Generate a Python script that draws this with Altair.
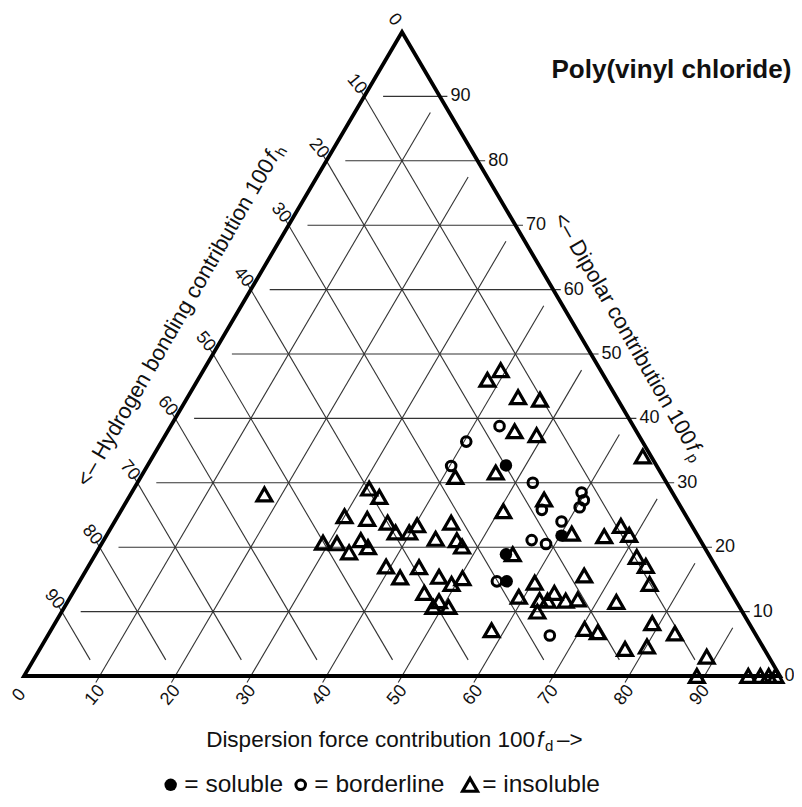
import altair as alt
import pandas as pd

# ---------------- data ----------------
# ternary values: fd = dispersion, fp = dipolar (fh = 100 - fd - fp)
soluble_fd = [47.4, 60.2, 54.3, 56.5]
soluble_fp = [32.7, 21.8, 18.9, 14.7]

border_fd = [43.5, 40.3, 40.2, 52.3, 59.5, 60.4, 60.4, 55.6, 59.1, 56.6, 58.8, 55.2, 66.4]
border_fp = [38.8, 36.4, 32.6, 30.0, 28.5, 27.3, 26.2, 25.8, 24.0, 21.1, 20.5, 14.7, 6.3]

insol_fd = [39.3, 38.3, 43.7, 46.8, 45.9, 49.1, 46.6, 41.6, 64.8, 55.1, 50.6, 61.4, 65.9,
            67.3, 69.1, 71.8, 73.7, 75.6, 55.2, 66.3, 60.3, 59.3, 62.3, 63.4, 63.7, 65.8,
            67.3, 62.9, 72.6, 58.3, 70.5, 72.5, 79.0, 82.8, 77.4, 80.1, 88.8, 89.0, 95.8,
            97.4, 98.5, 99.4,
            17.7, 31.1, 33.1, 30.0, 33.2, 36.2, 38.0, 39.8, 40.3, 44.6, 43.8, 46.7, 47.9,
            29.2, 31.1, 34.0, 35.5, 33.4, 39.4, 42.1, 43.8, 47.2, 49.4, 50.4, 46.5, 49.1,
            48.8, 50.8]
insol_fp = [47.5, 46.0, 43.3, 42.9, 38.0, 37.4, 31.6, 30.9, 34.1, 27.4, 25.6, 22.1, 21.7,
            23.3, 21.9, 18.5, 17.1, 14.3, 18.9, 15.6, 14.5, 12.3, 11.8, 11.7, 12.9, 11.7,
            11.9, 10.0, 11.5, 7.1, 7.3, 6.8, 8.2, 6.6, 4.2, 4.6, 3.0, 0.0, 0.0,
            0.0, 0.0, 0.0,
            28.2, 29.1, 27.8, 24.8, 24.4, 23.8, 22.3, 22.3, 23.4, 23.8, 21.3, 21.1, 20.1,
            20.7, 20.6, 21.1, 20.0, 19.2, 17.0, 15.3, 16.9, 15.4, 14.3, 15.2, 12.9, 11.6,
            10.7, 10.7]

grid_ticks = [10, 20, 30, 40, 50, 60, 70, 80, 90]
tick_labels = [0, 10, 20, 30, 40, 50, 60, 70, 80, 90]

corner_fd = [0, 100, 0, 0, 100]
corner_fp = [0, 0, 100, 0, 0]

title_text = "Poly(vinyl chloride)"
bottom_title = "Dispersion force contribution 100"
left_title = "<\u2013 Hydrogen bonding contribution 100"
right_title = "<\u2013 Dipolar contribution 100"
legend_texts = ["= soluble", "= borderline", "= insoluble"]

# ---------------- layout ----------------
W, H = 786, 789
XMIN, XMAX = -2.116, 101.85
YMIN, YMAX = -18.79, 103.73
FONT = "Liberation Sans"
SHORT = 2.5   # gap left before the far edge
TICK = 1.0    # tick length beyond the edge

xs = alt.Scale(domain=[XMIN, XMAX], nice=False, zero=False)
ys = alt.Scale(domain=[YMIN, YMAX], nice=False, zero=False)
X = lambda f: alt.X(f, type="quantitative", scale=xs, axis=None)
Y = lambda f: alt.Y(f, type="quantitative", scale=ys, axis=None)

def tern(fd, fp):
    df = pd.DataFrame({"fd": fd, "fp": fp})
    df["X"] = df["fd"] + df["fp"] / 2.0
    df["Y"] = df["fp"]
    return df

# grid lines
rows = []
for k in grid_ticks:
    rows.append(((k, -TICK), (k, 100 - k - SHORT)))                       # constant fd
    rows.append(((100 - k + TICK, k), (SHORT, k)))                        # constant fp
    rows.append(((-TICK, 100 - k + TICK), (100 - k - SHORT, SHORT)))      # constant fh
grid = pd.DataFrame({
    "X": [r[0][0] + r[0][1] / 2 for r in rows], "Y": [r[0][1] for r in rows],
    "X2": [r[1][0] + r[1][1] / 2 for r in rows], "Y2": [r[1][1] for r in rows],
})

grid_layer = alt.Chart(grid).mark_rule(color="#333333", strokeWidth=1.1).encode(
    x=X("X"), y=Y("Y"), x2="X2:Q", y2="Y2:Q")

edges = tern(corner_fd, corner_fp)
edges["o"] = range(len(edges))
edge_layer = alt.Chart(edges).mark_line(color="black", strokeWidth=3.8, strokeJoin="miter").encode(
    x=X("X"), y=Y("Y"), order="o:Q")

TRI = dict(shape="triangle-up", filled=False, size=220, strokeWidth=3.2, color="black", opacity=1)
OC = dict(shape="circle", filled=False, size=92, strokeWidth=3.0, color="black", opacity=1)
FC = dict(shape="circle", filled=True, size=155, color="black", opacity=1)

ins_layer = alt.Chart(tern(insol_fd, insol_fp)).mark_point(**TRI).encode(x=X("X"), y=Y("Y"))
bor_layer = alt.Chart(tern(border_fd, border_fp)).mark_point(**OC).encode(x=X("X"), y=Y("Y"))
sol_layer = alt.Chart(tern(soluble_fd, soluble_fp)).mark_point(**FC).encode(x=X("X"), y=Y("Y"))

# tick labels
lab = pd.DataFrame({"k": tick_labels})
lab["t"] = lab["k"].astype(str)
bot = lab.copy(); bot["X"] = bot["k"] - 0.6; bot["Y"] = -3.0
lef = lab.copy(); lef["X"] = 49.0 - lef["k"] / 2; lef["Y"] = 101.9 - lef["k"]
rig = lab.copy()
rig["X"] = [100.6 if k == 0 else 101.4 - k / 2 for k in rig["k"]]
rig["Y"] = rig["k"]

def txt(df, **kw):
    base = dict(font=FONT, fontSize=18, color="#111")
    base.update(kw)
    return alt.Chart(df).mark_text(**base).encode(x=X("X"), y=Y("Y"), text="t:N")

bot_lab = txt(bot, angle=310, align="center", baseline="middle")
lef_lab = txt(lef, angle=50, align="center", baseline="middle")
rig_lab = txt(rig, align="left", baseline="middle")

# titles with italic f and subscript
def titled(px, py, main, sub, angle, baseline, subdy, fs, tail=None):
    d = pd.DataFrame({"X": [px], "Y": [py]})
    ls = []
    ls.append(alt.Chart(d).mark_text(text=main, font=FONT, fontSize=fs, align="right",
              baseline=baseline, angle=angle, color="#111").encode(x=X("X"), y=Y("Y")))
    ls.append(alt.Chart(d).mark_text(text="f", font=FONT, fontSize=fs, fontStyle="italic",
              align="left", baseline=baseline, angle=angle, dx=2, color="#111").encode(x=X("X"), y=Y("Y")))
    ls.append(alt.Chart(d).mark_text(text=sub, font=FONT, fontSize=round(fs * 0.68), align="left",
              baseline=baseline, angle=angle, dx=10, dy=subdy, color="#111").encode(x=X("X"), y=Y("Y")))
    if tail:
        ls.append(alt.Chart(d).mark_text(text=tail, font=FONT, fontSize=fs, align="left",
                  baseline=baseline, angle=angle, dx=22, color="#111").encode(x=X("X"), y=Y("Y")))
    return ls

t_bottom = titled(67.6, -11.0, bottom_title, "d", 0, "alphabetic", 4, 22.5, tail="\u2013>")
t_left = titled(32.4, 80.0, left_title, "h", 300, "middle", 6, 22)
t_right = titled(88.2, 36.2, right_title, "p", 60, "middle", 6, 22)

main_title = alt.Chart(pd.DataFrame({"X": [101.5], "Y": [94.1]})).mark_text(
    text=title_text, font=FONT, fontSize=26, fontWeight="bold", align="right",
    baseline="middle", color="#111").encode(x=X("X"), y=Y("Y"))

# legend
leg_y = -16.9
leg_sym_x = [19.4, 36.6, 59.0]
leg_txt_x = [21.2, 38.4, 60.6]
lg = pd.DataFrame({"X": leg_sym_x, "Y": [leg_y] * 3})
leg_sol = alt.Chart(lg.iloc[[0]]).mark_point(**FC).encode(x=X("X"), y=Y("Y"))
leg_bor = alt.Chart(lg.iloc[[1]]).mark_point(**OC).encode(x=X("X"), y=Y("Y"))
leg_ins = alt.Chart(lg.iloc[[2]]).mark_point(**TRI).encode(x=X("X"), y=Y("Y"))
lt = pd.DataFrame({"X": leg_txt_x, "Y": [-16.9] * 3, "t": legend_texts})
leg_txt = alt.Chart(lt).mark_text(font=FONT, fontSize=24.5, align="left", baseline="middle",
            color="#111").encode(x=X("X"), y=Y("Y"), text="t:N")

layers = [grid_layer, edge_layer, ins_layer, bor_layer, sol_layer,
          bot_lab, lef_lab, rig_lab, main_title,
          leg_sol, leg_bor, leg_ins, leg_txt] + t_bottom + t_left + t_right

chart = alt.layer(*layers).properties(
    width=W, height=H, background="white", padding=0,
    autosize=alt.AutoSizeParams(type="none"),
).configure_view(stroke=None)

chart.save("out.html", embed_options={"renderer": "svg", "actions": False})
